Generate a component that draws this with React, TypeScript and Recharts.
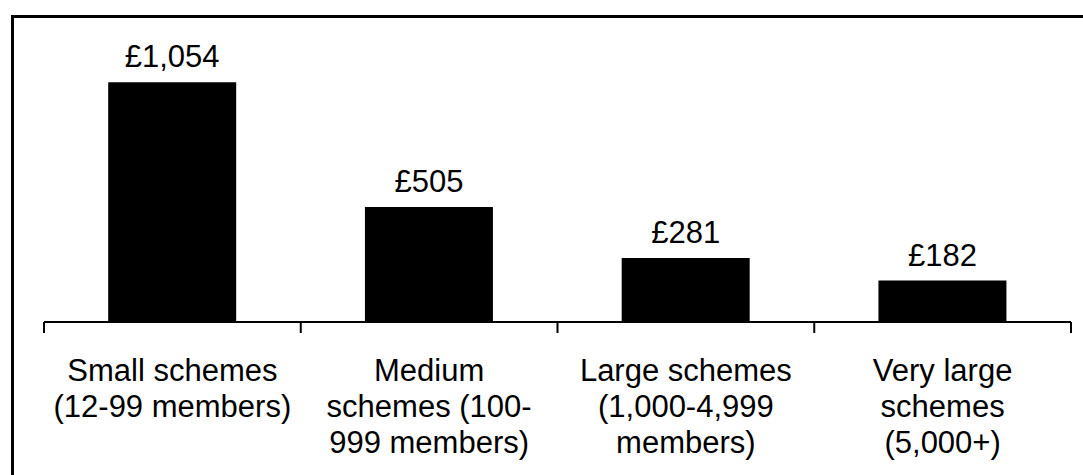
import { BarChart, Bar, XAxis, YAxis, LabelList } from 'recharts';

const categories = [
  'Small schemes\n(12-99 members)',
  'Medium\nschemes (100-\n999 members)',
  'Large schemes\n(1,000-4,999\nmembers)',
  'Very large\nschemes\n(5,000+)',
];
const costPerMember = [1054, 505, 281, 182];

const data = categories.map((name, i) => ({ name, value: costPerMember[i] }));

const FONT = '"Liberation Sans", Arial, sans-serif';

const formatPounds = (v: any) => '£' + Number(v).toLocaleString('en-GB');

// label lines plus tick marks on the band edges (not centres)
const CategoryTick = ({ x, y, payload, index, visibleTicksCount }: any) => {
  const lines = String(payload.value).split('\n');
  const half = payload.offset || 0;
  const isLast = index === visibleTicksCount - 1;
  return (
    <g>
      <line x1={x - half} x2={x - half} y1={y} y2={y + 11} stroke="#000" strokeWidth={2} />
      {isLast && <line x1={x + half} x2={x + half} y1={y} y2={y + 11} stroke="#000" strokeWidth={2} />}
      <text x={x} y={y + 59} textAnchor="middle" fontSize={31} fontFamily={FONT} fill="#000">
        {lines.map((line, i) => (
          <tspan key={i} x={x} dy={i === 0 ? 0 : 36}>
            {line}
          </tspan>
        ))}
      </text>
    </g>
  );
};

export default function App() {
  return (
    <div style={{ position: 'absolute', left: 0, top: 0, width: 1083, height: 475, overflow: 'hidden', background: '#fff' }}>
      <div
        style={{
          position: 'absolute',
          left: 11,
          top: 15,
          width: 1072,
          height: 460,
          borderLeft: '3px solid #000',
          borderTop: '3px solid #000',
          boxSizing: 'border-box',
        }}
      />
      <div style={{ position: 'absolute', left: 0, top: 0 }}>
        <BarChart
          width={1083}
          height={475}
          data={data}
          margin={{ top: 49, right: 12, bottom: 0, left: 44 }}
          barCategoryGap="25%"
        >
          <XAxis
            dataKey="name"
            height={153}
            axisLine={{ stroke: '#000', strokeWidth: 2 }}
            tickLine={false}
            tickSize={0}
            tickMargin={0}
            interval={0}
            tick={<CategoryTick />}
          />
          <YAxis hide domain={[0, 1200]} />
          <Bar dataKey="value" fill="#000" isAnimationActive={false}>
            <LabelList
              dataKey="value"
              position="top"
              offset={15}
              formatter={formatPounds}
              fontSize={31}
              fontFamily={FONT}
              fill="#000"
            />
          </Bar>
        </BarChart>
      </div>
    </div>
  );
}
